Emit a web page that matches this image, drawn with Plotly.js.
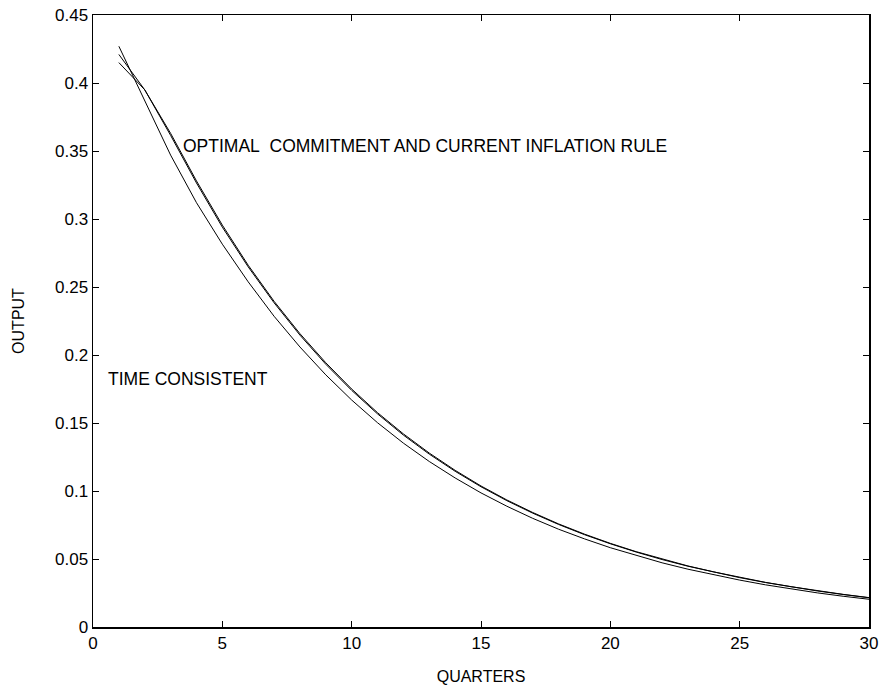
<!DOCTYPE html>
<html>
<head>
<meta charset="utf-8">
<script src="https://cdn.plot.ly/plotly-3.0.1.min.js"></script>
<style>html,body{margin:0;padding:0;background:#fff;}#chart{width:886px;height:691px;}</style>
</head>
<body>
<div id="chart"></div>
<script>
// Quarters
const quarters = [1,2,3,4,5,6,7,8,9,10,11,12,13,14,15,16,17,18,19,20,21,22,23,24,25,26,27,28,29,30];
// Optimal commitment
const commitment = [0.415,0.395,0.363,0.328,0.2955,0.266,0.2395,0.2157,0.1943,0.1750,0.1576,0.1420,0.1279,0.1152,0.1037,0.0934,0.0842,0.0758,0.0683,0.0615,0.0554,0.0499,0.0449,0.0405,0.0364,0.0328,0.0296,0.0266,0.0240,0.0216];
// Current inflation rule
const inflationRule = [0.421,0.395,0.3615,0.3265,0.294,0.2648,0.2384,0.2146,0.1932,0.1740,0.1567,0.1411,0.1271,0.1145,0.1031,0.0929,0.0837,0.0754,0.0679,0.0612,0.0551,0.0496,0.0447,0.0403,0.0363,0.0327,0.0295,0.0265,0.0239,0.0215];
// Time consistent
const timeConsistent = [0.427,0.387,0.347,0.312,0.2815,0.2538,0.2285,0.2059,0.1854,0.1669,0.1502,0.1352,0.1217,0.1096,0.0986,0.0888,0.0799,0.0719,0.0648,0.0583,0.0525,0.0472,0.0425,0.0383,0.0345,0.0310,0.0279,0.0251,0.0226,0.0204];
const xTicks = [0,5,10,15,20,25,30];
const yTicks = [0,0.05,0.1,0.15,0.2,0.25,0.3,0.35,0.4,0.45];
const yTickText = ['0','0.05','0.1','0.15','0.2','0.25','0.3','0.35','0.4','0.45'];

const FONT = 'Liberation Sans, Arial, Helvetica, sans-serif';
const lineStyle = {color:'#000', width:1};
const traces = [
  {x:quarters, y:commitment, mode:'lines', line:lineStyle, name:'Optimal commitment'},
  {x:quarters, y:inflationRule, mode:'lines', line:lineStyle, name:'Current inflation rule'},
  {x:quarters, y:timeConsistent, mode:'lines', line:lineStyle, name:'Time consistent'}
];
const axisCommon = {
  showline:true, linecolor:'#000', linewidth:1.5, mirror:'ticks',
  ticks:'inside', ticklen:6, tickwidth:1, tickcolor:'#000',
  showgrid:false, zeroline:false, tickfont:{family:FONT, size:17, color:'#000'}
};
const layout = {
  width:886, height:691,
  margin:{l:93, r:17, t:15, b:64},
  paper_bgcolor:'#fff', plot_bgcolor:'#fff',
  showlegend:false,
  font:{family:FONT, color:'#000'},
  xaxis:Object.assign({}, axisCommon, {
    range:[0,30], tickvals:xTicks, ticktext:xTicks.map(String),
    title:{text:'QUARTERS', font:{family:FONT, size:16, color:'#000'}, standoff:19}
  }),
  yaxis:Object.assign({}, axisCommon, {
    range:[0,0.45], tickvals:yTicks, ticktext:yTickText,
    title:{text:'OUTPUT', font:{family:FONT, size:16, color:'#000'}, standoff:26}
  }),
  annotations:[
    {x:3.42, y:0.354, xref:'x', yref:'y', text:'OPTIMAL&nbsp;&nbsp;COMMITMENT AND CURRENT INFLATION RULE', showarrow:false, xanchor:'left', yanchor:'middle', font:{family:FONT, size:17.5, color:'#000'}},
    {x:0.52, y:0.182, xref:'x', yref:'y', text:'TIME CONSISTENT', showarrow:false, xanchor:'left', yanchor:'middle', font:{family:FONT, size:17.5, color:'#000'}}
  ]
};
Plotly.newPlot('chart', traces, layout, {displayModeBar:false, staticPlot:true});
</script>
</body>
</html>
